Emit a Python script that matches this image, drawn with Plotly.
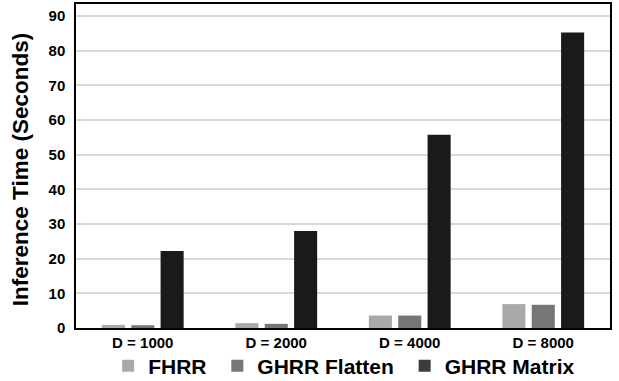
import plotly.graph_objects as go

categories = ["D = 1000", "D = 2000", "D = 4000", "D = 8000"]
fhrr = [0.9, 1.4, 3.6, 6.9]
ghrr_flatten = [0.8, 1.2, 3.6, 6.7]
ghrr_matrix = [22.2, 28.0, 55.8, 85.3]
y_ticks = [0, 10, 20, 30, 40, 50, 60, 70, 80, 90]

series = [
    ("FHRR", fhrr, "#a9a9a9", "#a9a9a9"),
    ("GHRR Flatten", ghrr_flatten, "#767676", "#767676"),
    ("GHRR Matrix", ghrr_matrix, "#1a1a1a", "#3c3c3c"),
]

fig = go.Figure()
for name, vals, col, legcol in series:
    fig.add_trace(go.Bar(x=categories, y=vals, name=name, marker_color=col,
                         marker_line_width=0, showlegend=False))
for name, vals, col, legcol in series:
    fig.add_trace(go.Scatter(x=[None], y=[None], mode="markers", name=name + " ",
                             marker=dict(symbol="square", size=12, color=legcol)))

fig.update_layout(
    width=619, height=381,
    margin=dict(l=76, r=9, t=4, b=53, autoexpand=False),
    paper_bgcolor="white", plot_bgcolor="white",
    barmode="group", bargap=0.34, bargroupgap=0.215,
    font=dict(family="Liberation Sans", color="black"),
    legend=dict(orientation="h", x=0.56, xanchor="center", xref="container",
                y=0.039, yanchor="middle", yref="container",
                bgcolor="rgba(0,0,0,0)",
                font=dict(family="Liberation Sans", size=21, color="black", weight="bold"),
                itemsizing="constant", tracegroupgap=0, itemwidth=30),
    annotations=[dict(text="Inference Time (Seconds)", textangle=-90,
                      xref="paper", yref="paper", x=-0.105, y=0.49,
                      xanchor="center", yanchor="middle", showarrow=False,
                      font=dict(size=22.5, weight="bold", color="black"))],
)
fig.update_xaxes(
    showline=True, linecolor="black", linewidth=1.5, mirror=True, automargin=False,
    tickfont=dict(size=15, weight="bold"), ticks="",
)
fig.update_yaxes(
    range=[0, 93.5], tickvals=y_ticks, showgrid=True, gridcolor="#d9d9d9", gridwidth=1.5,
    showline=True, linecolor="black", linewidth=1.5, mirror=True, zeroline=False,
    automargin=False,
    tickfont=dict(size=15, weight="bold"), ticks="", ticklabelstandoff=6,
)

fig.write_html("out.html", config={"displayModeBar": False},
               post_script="document.body.style.margin='0';")
